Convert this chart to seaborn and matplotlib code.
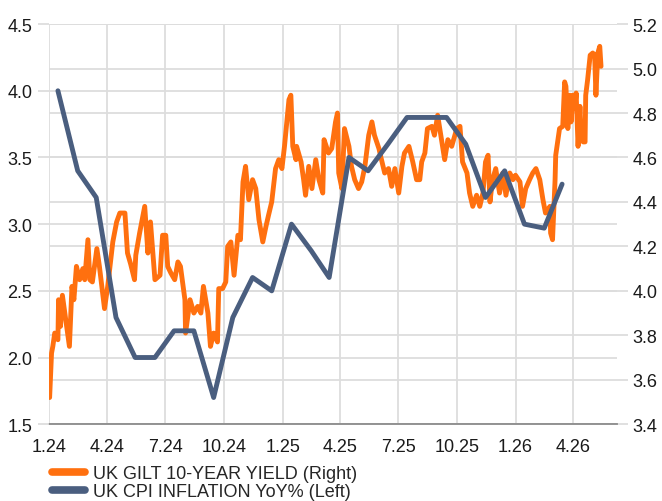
import pandas as pd
import matplotlib
matplotlib.use("Agg")
import matplotlib.pyplot as plt
from matplotlib.lines import Line2D
from matplotlib.transforms import blended_transform_factory
import seaborn as sns

# ---- data ----
# UK gilt 10-year yield (right axis): day number counted from 1 Jan 2024, and yield
gilt_day = [
    1, 4, 6, 9, 14, 15, 18, 21, 32, 36, 39, 43, 48, 53, 56, 61, 64, 68, 75, 79,
    87, 92, 100, 106, 111, 119, 123, 128, 134, 136, 142, 150, 155, 159, 166, 174, 178, 183, 186, 191,
    197, 202, 206, 213, 214, 221, 227, 233, 238, 242, 249, 253, 258, 264, 266, 272, 277, 280, 285, 290,
    296, 300, 304, 308, 313, 319, 324, 329, 335, 340, 344, 349, 355, 360, 365, 369, 376, 379, 382, 387,
    388, 395, 399, 402, 407, 412, 418, 423, 429, 431, 438, 443, 449, 452, 454, 459, 463, 470, 474, 479,
    485, 490, 495, 501, 506, 510, 517, 521, 526, 532, 537, 542, 548, 553, 557, 564, 570, 576, 581, 584,
    589, 593, 600, 604, 609, 615, 620, 625, 631, 639, 644, 648, 655, 659, 664, 670, 675, 680, 684, 688,
    691, 695, 700, 706, 711, 716, 722, 727, 731, 738, 742, 747, 753, 758, 763, 769, 774, 778, 785, 786,
    789, 793, 794, 800, 805, 808, 810, 813, 816, 818, 821, 824, 826, 829, 832, 833, 837, 840, 841, 844,
    848, 852, 855, 857, 860, 863, 865,
]
gilt_yield = [
    3.52, 3.72, 3.75, 3.81, 3.78, 3.96, 3.84, 3.98, 3.75, 4.02, 3.96, 4.11, 4.05, 4.10, 4.05, 4.23, 4.05, 4.04, 4.19, 4.11,
    3.92, 4.02, 4.22, 4.31, 4.35, 4.35, 4.17, 4.12, 4.05, 4.16, 4.26, 4.38, 4.17, 4.31, 4.05, 4.07, 4.25, 4.25, 4.11, 4.08,
    4.05, 4.13, 4.11, 3.96, 3.81, 3.96, 3.90, 3.93, 3.90, 4.02, 3.90, 3.75, 3.81, 3.77, 4.01, 4.01, 4.04, 4.20, 4.22, 4.07,
    4.25, 4.23, 4.49, 4.56, 4.41, 4.50, 4.46, 4.32, 4.22, 4.29, 4.34, 4.40, 4.55, 4.59, 4.55, 4.65, 4.86, 4.88, 4.65, 4.59,
    4.65, 4.58, 4.50, 4.43, 4.56, 4.46, 4.59, 4.50, 4.44, 4.68, 4.62, 4.64, 4.76, 4.80, 4.53, 4.46, 4.73, 4.65, 4.56, 4.50,
    4.46, 4.49, 4.56, 4.70, 4.76, 4.70, 4.64, 4.59, 4.53, 4.55, 4.47, 4.55, 4.44, 4.56, 4.62, 4.65, 4.58, 4.50, 4.50, 4.58,
    4.62, 4.73, 4.74, 4.70, 4.79, 4.68, 4.59, 4.68, 4.65, 4.73, 4.74, 4.58, 4.53, 4.44, 4.38, 4.43, 4.38, 4.44, 4.58, 4.61,
    4.40, 4.50, 4.55, 4.44, 4.53, 4.43, 4.53, 4.50, 4.52, 4.49, 4.38, 4.46, 4.50, 4.53, 4.55, 4.50, 4.41, 4.35, 4.38, 4.26,
    4.23, 4.50, 4.61, 4.73, 4.74, 4.94, 4.92, 4.73, 4.88, 4.76, 4.88, 4.82, 4.89, 4.65, 4.83, 4.76, 4.67, 4.67, 4.88, 4.95,
    5.06, 5.07, 5.06, 4.88, 5.07, 5.10, 5.01,
]
gilt_start = "2024-01-01"

# UK CPI inflation YoY %, monthly Jan 2024 - Mar 2026 (left axis)
cpi_yoy = [
    4.0, 3.4, 3.2, 2.3, 2.0, 2.0, 2.2, 2.2, 1.7, 2.3, 2.6, 2.5,
    3.0, 2.8, 2.6, 3.5, 3.4, 3.6, 3.8, 3.8, 3.8, 3.6, 3.2, 3.4,
    3.0, 2.97, 3.3,
]
cpi_start = "2024-01-01"

tick_dates = ["2024-01-01", "2024-04-01", "2024-07-01", "2024-10-01", "2025-01-01",
              "2025-04-01", "2025-07-01", "2025-10-01", "2026-01-01", "2026-04-01"]
tick_labels = ["1.24", "4.24", "7.24", "10.24", "1.25", "4.25", "7.25", "10.25", "1.26", "4.26"]
left_ticks = [1.5, 2.0, 2.5, 3.0, 3.5, 4.0, 4.5]
right_ticks = [3.4, 3.6, 3.8, 4.0, 4.2, 4.4, 4.6, 4.8, 5.0, 5.2]
gilt_label = "UK GILT 10-YEAR YIELD (Right)"
cpi_label = "UK CPI INFLATION YoY% (Left)"

df_gilt = pd.DataFrame({
    "date": pd.Timestamp(gilt_start) + pd.to_timedelta(gilt_day, unit="D"),
    "yield": gilt_yield,
})
df_cpi = pd.DataFrame({
    "date": pd.date_range(cpi_start, periods=len(cpi_yoy), freq="MS") + pd.Timedelta(days=14),
    "cpi": cpi_yoy,
})

# ---- style ----
sns.set_style("white")
plt.rcParams["font.family"] = ["Liberation Sans", "DejaVu Sans"]
plt.rcParams["font.size"] = 13

orange = "#FF700F"
slate = "#4A5E7F"
grid_c = "#DDDDDD"
text_c = "#1A1A1A"

fig = plt.figure(figsize=(6.62, 5.02), dpi=100)
ax_r = fig.add_axes([0.074, 0.153, 0.858, 0.797])   # gilt, ticks on the right
ax_l = ax_r.twinx()                                   # cpi, ticks on the left

sns.lineplot(data=df_gilt, x="date", y="yield", ax=ax_r, color=orange, linewidth=3.5)
sns.lineplot(data=df_cpi, x="date", y="cpi", ax=ax_l, color=slate, linewidth=3.5)

ax_r.set_ylim(right_ticks[0], right_ticks[-1])
ax_l.set_ylim(left_ticks[0], left_ticks[-1])
ax_r.set_xlim(pd.Timestamp("2024-01-01"), pd.Timestamp("2026-06-09"))

ax_r.yaxis.tick_right()
ax_l.yaxis.tick_left()
ax_r.set_yticks(right_ticks)
ax_r.set_yticklabels([f"{t:.1f}" for t in right_ticks])
ax_l.set_yticks(left_ticks)
ax_l.set_yticklabels([f"{t:.1f}" for t in left_ticks])
ax_r.set_xticks(pd.to_datetime(tick_dates))
ax_r.set_xticklabels(tick_labels)

for a in (ax_r, ax_l):
    a.set_xlabel("")
    a.set_ylabel("")
    for s in a.spines.values():
        s.set_visible(False)

# all grid lines live on the bottom axes so both lines sit above them
ax_r.set_axisbelow(True)
ax_r.grid(True, axis="both", color=grid_c, linewidth=1.3)
blend = blended_transform_factory(ax_r.transAxes, ax_l.transData)
for t in left_ticks:
    ax_r.add_line(Line2D([0, 1], [t, t], transform=blend, color=grid_c,
                         linewidth=1.3, zorder=0.5))
ax_r.spines["bottom"].set_visible(True)
ax_r.spines["bottom"].set_color("#8A8A8A")
ax_r.spines["bottom"].set_linewidth(1.3)
ax_r.spines["bottom"].set_zorder(3)

ax_r.tick_params(axis="x", length=7, width=1.3, color=grid_c, pad=3, labelcolor=text_c)
ax_r.tick_params(axis="y", right=True, left=False, length=8, width=1.3, color=grid_c,
                 pad=3, labelcolor=text_c)
ax_l.tick_params(axis="y", left=True, right=False, length=8, width=1.3, color=grid_c,
                 pad=4, labelcolor=text_c)

ax_l.patch.set_visible(False)

handles = [Line2D([0], [0], color=orange, linewidth=5.5),
           Line2D([0], [0], color=slate, linewidth=5.5)]
fig.legend(handles, [gilt_label, cpi_label], loc="upper left",
           bbox_to_anchor=(0.079, 0.072), frameon=False, handlelength=1.8,
           handletextpad=0.45, labelspacing=0.08, borderpad=0, borderaxespad=0)

fig.savefig("out.png", dpi=100)
